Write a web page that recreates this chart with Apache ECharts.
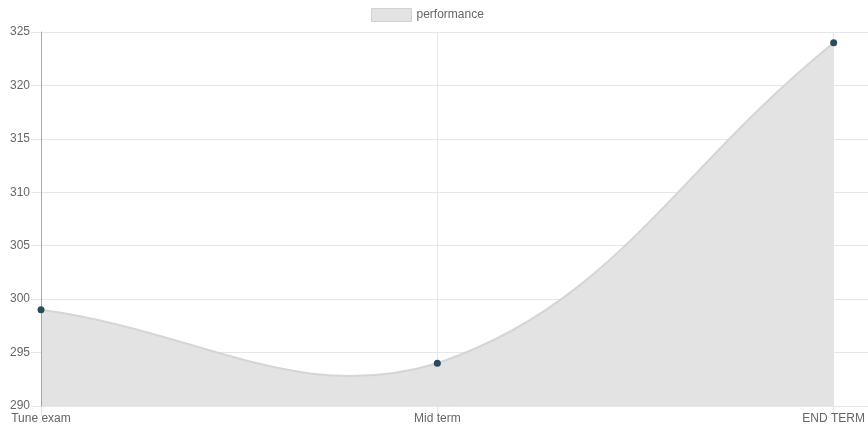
<!DOCTYPE html>
<html><head><meta charset="utf-8">
<script src="https://cdn.jsdelivr.net/npm/echarts@6/dist/echarts.min.js"></script>
<style>html,body{margin:0;padding:0;background:#fff}#c{width:868px;height:434px}</style>
</head><body><div id="c"></div>
<script>
const categories = ['Tune exam', 'Mid term', 'END TERM'];
const performance = [299, 294, 324];
const yTicks = [290, 295, 300, 305, 310, 315, 320, 325];

const FONT = 'Liberation Sans, Arial, sans-serif';
const TENSION = 0.4;

// Chart.js-style spline path through data coords (via the axes)
function renderCurve(params, api) {
  if (params.dataIndex !== 0) return null;
  const cs = params.coordSys;
  const left = cs.x, right = cs.x + cs.width, top = cs.y, bottom = cs.y + cs.height;
  const pts = performance.map((v, i) => api.coord([i, v]));
  const cap = (p) => [Math.max(left, Math.min(right, p[0])), Math.max(top, Math.min(bottom, p[1]))];
  const cps = pts.map((cur, i) => {
    const prev = pts[i - 1] || cur, next = pts[i + 1] || cur;
    const d01 = Math.hypot(cur[0] - prev[0], cur[1] - prev[1]);
    const d12 = Math.hypot(next[0] - cur[0], next[1] - cur[1]);
    const s01 = (d01 + d12) ? d01 / (d01 + d12) : 0;
    const s12 = (d01 + d12) ? d12 / (d01 + d12) : 0;
    const fa = TENSION * s01, fb = TENSION * s12;
    return {
      p: cap([cur[0] - fa * (next[0] - prev[0]), cur[1] - fa * (next[1] - prev[1])]),
      n: cap([cur[0] + fb * (next[0] - prev[0]), cur[1] + fb * (next[1] - prev[1])])
    };
  });
  let d = 'M' + pts[0][0] + ' ' + pts[0][1];
  for (let i = 1; i < pts.length; i++) {
    const a = cps[i - 1].n, b = cps[i].p, c = pts[i];
    d += ' C' + a[0] + ' ' + a[1] + ' ' + b[0] + ' ' + b[1] + ' ' + c[0] + ' ' + c[1];
  }
  const base = api.coord([0, yTicks[0]])[1];
  const area = d + ' L' + pts[pts.length - 1][0] + ' ' + base + ' L' + pts[0][0] + ' ' + base + ' Z';
  return {
    type: 'group',
    children: [
      { type: 'path', shape: { pathData: area }, style: { fill: '#e3e3e3', stroke: null } },
      { type: 'path', shape: { pathData: d }, style: { fill: null, stroke: '#d5d5d5', lineWidth: 2 } }
    ]
  };
}

const chart = echarts.init(document.getElementById('c'));
chart.setOption({
  animation: false,
  legend: {
    top: 8, left: 371, padding: 0, itemWidth: 40, itemHeight: 13, itemGap: 6,
    textStyle: { fontFamily: FONT, fontSize: 12, color: '#666' },
    data: [{ name: 'performance', icon: 'rect', itemStyle: { color: '#e3e3e3', borderColor: '#d2d2d2', borderWidth: 1 } }]
  },
  grid: [
    { left: 41, right: 34, top: 32, bottom: 28 },
    { left: 41, right: 0, top: 32, bottom: 28 }
  ],
  xAxis: [{
    type: 'category', data: categories, boundaryGap: false, gridIndex: 0,
    axisLine: { show: false },
    axisTick: { show: true, length: 10, lineStyle: { color: '#e6e6e6' } },
    splitLine: { show: true, lineStyle: { color: '#e6e6e6' } },
    axisLabel: { fontFamily: FONT, fontSize: 12, color: '#666', margin: 7 }
  }, {
    type: 'value', gridIndex: 1, show: false
  }],
  yAxis: [{
    type: 'value', gridIndex: 0, min: yTicks[0], max: yTicks[yTicks.length - 1], interval: 5,
    axisLine: { show: true, lineStyle: { color: '#a8a8a8' } },
    axisTick: { show: false },
    splitLine: { show: false },
    axisLabel: { fontFamily: FONT, fontSize: 12, color: '#666', margin: 11 },
    z: 3
  }, {
    type: 'value', gridIndex: 1, min: yTicks[0], max: yTicks[yTicks.length - 1], interval: 5,
    axisLine: { show: false },
    axisTick: { show: true, length: 10, lineStyle: { color: '#e6e6e6' } },
    splitLine: { show: true, lineStyle: { color: '#e6e6e6' } },
    axisLabel: { show: false }
  }],
  series: [{
    name: 'performance-curve', type: 'custom', xAxisIndex: 0, yAxisIndex: 0,
    data: performance.map((v, i) => [i, v]),
    renderItem: renderCurve, silent: true, z: 2
  }, {
    name: 'performance', type: 'line', xAxisIndex: 0, yAxisIndex: 0,
    data: performance, symbol: 'circle', symbolSize: 7,
    lineStyle: { opacity: 0 },
    itemStyle: { color: '#2a4b5d' },
    z: 4
  }]
});
</script></body></html>
